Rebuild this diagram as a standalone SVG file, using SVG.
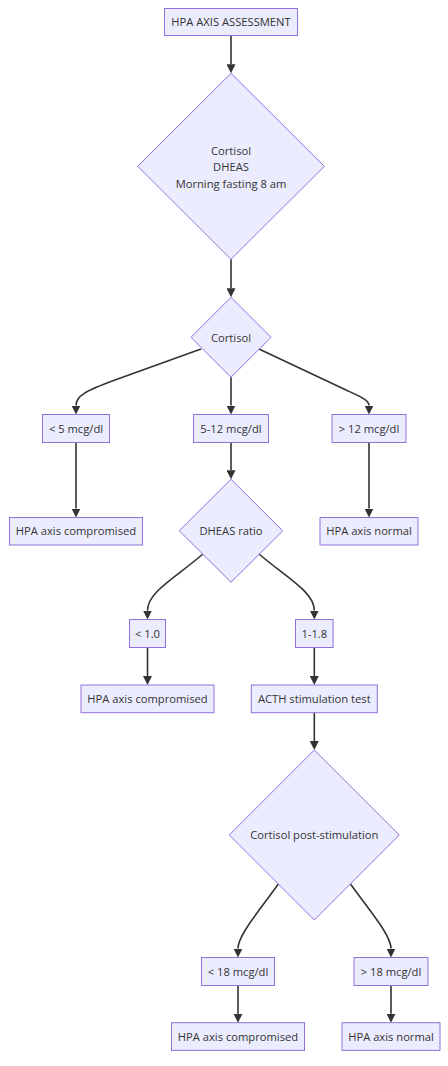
<svg xmlns="http://www.w3.org/2000/svg" width="448" height="1066" viewBox="0 0 448 1066">
<style>
.node rect, .node polygon { fill: #ECECFF; stroke: #9370DB; stroke-width: 1; }
.node text { font-family: "Open Sans", "Noto Sans", "DejaVu Sans", sans-serif; font-size: 11.2px; fill: #333333; text-anchor: middle; }
.edges path { fill: none; stroke: #333333; stroke-width: 1.6; }
</style>
<defs>
<marker id="arrow" viewBox="0 0 10 10" refX="0" refY="5" markerUnits="userSpaceOnUse" markerWidth="9" markerHeight="9" orient="auto">
<path d="M0,0 L10,5 L0,10 z" fill="#333333"/>
</marker>
</defs>
<rect width="448" height="1066" fill="#ffffff"/>
<g class="edges">
<path d="M231,35.5 V64.3" marker-end="url(#arrow)"/>
<path d="M231,259.3 V288.3" marker-end="url(#arrow)"/>
<path d="M201,349 L115,380 C85,391 76,396 76,405.5" marker-end="url(#arrow)"/>
<path d="M231,377.3 V405.5" marker-end="url(#arrow)"/>
<path d="M259,349 L345,389.5 C360,396.5 369,400 369,405.5" marker-end="url(#arrow)"/>
<path d="M76,442.5 V508.5" marker-end="url(#arrow)"/>
<path d="M231,442.5 V470.3" marker-end="url(#arrow)"/>
<path d="M369,442.5 V508.5" marker-end="url(#arrow)"/>
<path d="M203,554 C175,578 147.5,592 147.5,610.5" marker-end="url(#arrow)"/>
<path d="M259,554 C287,578 314.3,592 314.3,610.5" marker-end="url(#arrow)"/>
<path d="M147.5,647.5 V676" marker-end="url(#arrow)"/>
<path d="M314.3,647.5 V676" marker-end="url(#arrow)"/>
<path d="M314.3,712.7 V741" marker-end="url(#arrow)"/>
<path d="M278.3,884 C260,910 238,935 238,948.5" marker-end="url(#arrow)"/>
<path d="M350.5,884 C369,910 391,935 391,948.5" marker-end="url(#arrow)"/>
<path d="M238,985.7 V1013.7" marker-end="url(#arrow)"/>
<path d="M391,985.7 V1013.7" marker-end="url(#arrow)"/>
</g>
<g id="start" class="node"><rect x="164.5" y="8.5" width="133" height="27"/><text x="231" y="26">HPA AXIS ASSESSMENT</text></g>
<g id="tests" class="node"><polygon points="231,73.3 324.3,166.3 231,259.3 137.7,166.3"/><text x="231" y="154.5">Cortisol</text><text x="231" y="171">DHEAS</text><text x="231" y="187.5">Morning fasting 8 am</text></g>
<g id="cortisol" class="node"><polygon points="231,297.3 271,337.3 231,377.3 191,337.3"/><text x="231" y="341.5">Cortisol</text></g>
<g id="low5" class="node"><rect x="42.5" y="414.5" width="67" height="28"/><text x="76" y="432.5">&lt; 5 mcg/dl</text></g>
<g id="mid" class="node"><rect x="193.5" y="414.5" width="75" height="28"/><text x="231" y="432.5">5-12 mcg/dl</text></g>
<g id="high12" class="node"><rect x="332" y="414.5" width="74" height="28"/><text x="369" y="432.5">&gt; 12 mcg/dl</text></g>
<g id="comp1" class="node"><rect x="9.5" y="517.5" width="133" height="27.5"/><text x="76" y="535">HPA axis compromised</text></g>
<g id="dheas" class="node"><polygon points="231,479.3 282.7,530.8 231,582.3 179.3,530.8"/><text x="231" y="535">DHEAS ratio</text></g>
<g id="normal1" class="node"><rect x="320" y="517.5" width="98" height="27.5"/><text x="369" y="535">HPA axis normal</text></g>
<g id="lt1" class="node"><rect x="129.5" y="619.5" width="36" height="28"/><text x="147.5" y="637.5">&lt; 1.0</text></g>
<g id="r118" class="node"><rect x="295.5" y="619.5" width="37.6" height="28"/><text x="314.3" y="637.5">1-1.8</text></g>
<g id="comp2" class="node"><rect x="81" y="685" width="133" height="27.7"/><text x="147.5" y="702.8">HPA axis compromised</text></g>
<g id="acth" class="node"><rect x="251.3" y="685" width="126" height="27.7"/><text x="314.3" y="702.8">ACTH stimulation test</text></g>
<g id="post" class="node"><polygon points="314.3,750 399.3,835 314.3,920 229.3,835"/><text x="314.3" y="839">Cortisol post-stimulation</text></g>
<g id="lt18" class="node"><rect x="201.5" y="957.5" width="73" height="28"/><text x="238" y="975.5">&lt; 18 mcg/dl</text></g>
<g id="gt18" class="node"><rect x="354" y="957.5" width="74" height="28"/><text x="391" y="975.5">&gt; 18 mcg/dl</text></g>
<g id="comp3" class="node"><rect x="171.5" y="1022.7" width="133" height="27.7"/><text x="238" y="1040.5">HPA axis compromised</text></g>
<g id="normal2" class="node"><rect x="342" y="1022.7" width="98" height="27.7"/><text x="391" y="1040.5">HPA axis normal</text></g>
</svg>
